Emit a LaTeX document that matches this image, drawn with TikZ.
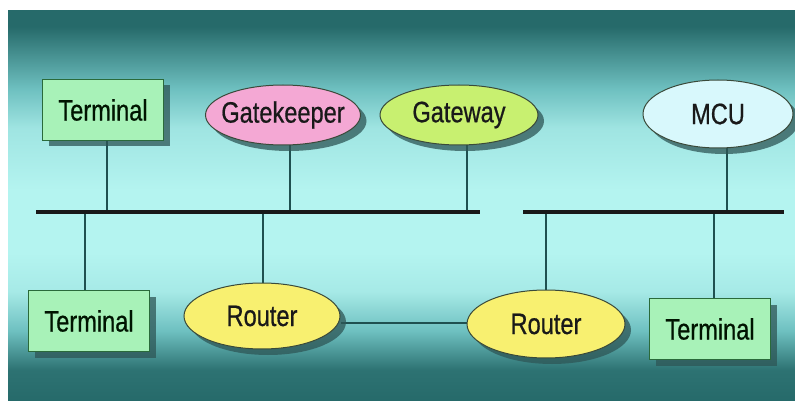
\documentclass[tikz,border=0pt]{standalone}
\usepackage{fontspec}
\setmainfont{Liberation Sans}[FakeStretch=0.8,FakeBold=0.6]
\usetikzlibrary{shapes.geometric,shadows}
\pgfdeclarelayer{back}
\pgfdeclarelayer{mid}
\pgfsetlayers{back,mid,main}
\definecolor{bgdark}{HTML}{266A6A}
\definecolor{bgmid}{HTML}{6EC0C0}
\definecolor{bglight}{HTML}{B4F4F0}
\definecolor{termfill}{HTML}{A8F2B8}
\definecolor{termline}{HTML}{2A6A3A}
\definecolor{gkfill}{HTML}{F4A8D4}
\definecolor{gwfill}{HTML}{C8F070}
\definecolor{mcufill}{HTML}{D8F8FC}
\definecolor{rtfill}{HTML}{F8F070}
\definecolor{edgeline}{HTML}{3A4A3A}
\definecolor{wire}{HTML}{1F5050}
\definecolor{shade}{HTML}{2E5656}
\pgfdeclareverticalshading{bgshade}{100bp}{
  color(0bp)=(bgdark);
  color(25bp)=(bgdark);
  color(29bp)=(bgdark!90!bgmid);
  color(34bp)=(bgmid);
  color(39bp)=(bglight!80!bgmid);
  color(44bp)=(bglight);
  color(52bp)=(bglight);
  color(60bp)=(bglight!70!bgmid);
  color(65bp)=(bgmid);
  color(69bp)=(bgmid!50!bgdark);
  color(73bp)=(bgdark);
  color(100bp)=(bgdark)}
\newcommand{\ctext}[1]{\makebox[0pt][c]{#1}}
\tikzset{
  x=1pt, y=-1pt,
  lbl/.style={font=\fontsize{29.5}{31}\selectfont, text=black!90},
  shad/.style={drop shadow={shadow xshift=6pt, shadow yshift=-6pt, fill=shade, opacity=0.75}},
  termbox/.style={lbl, draw=termline, line width=1.2pt, fill=termfill, rectangle,
    minimum width=121pt, minimum height=61pt, inner sep=0pt, shad, text=black!80!green!40!black},
  oval/.style={lbl, draw=edgeline, line width=1pt, ellipse, inner sep=0pt, shad},
  bus/.style={line width=4pt, black!90},
  wireline/.style={line width=2pt, wire}
}
\begin{document}
\begin{tikzpicture}
\useasboundingbox (0,0) rectangle (795,401);
\begin{pgfonlayer}{back}
\fill[white] (0,0) rectangle (795,401);
\shade[shading=bgshade] (8,11) rectangle (795,401);
\end{pgfonlayer}

% nodes
\node[termbox] (t1) at (103,110) {Terminal};
\node[oval, fill=gkfill, minimum width=155pt, minimum height=60pt] (gk) at (283,115) {\ctext{Gatekeeper}};
\node[oval, fill=gwfill, minimum width=158pt, minimum height=60pt] (gw) at (459,115) {\ctext{Gateway}};
\node[oval, fill=mcufill, minimum width=150pt, minimum height=68pt] (mcu) at (718,114) {\ctext{MCU}};
\node[termbox] (t2) at (89,321) {Terminal};
\node[oval, fill=rtfill, minimum width=156pt, minimum height=66pt] (r1) at (262,316) {\ctext{Router}};
\node[oval, fill=rtfill, minimum width=158pt, minimum height=68pt] (r2) at (546,324) {\ctext{Router}};
\node[termbox] (t3) at (710,329) {Terminal};

% bus coordinates
\coordinate (b1l) at (36,212);
\coordinate (b1r) at (480,212);
\coordinate (b2l) at (523,212);
\coordinate (b2r) at (784,212);
\coordinate (j1) at (107,212);
\coordinate (j2) at (290,212);
\coordinate (j3) at (467,212);
\coordinate (j4) at (727,212);
\coordinate (k1) at (85,212);
\coordinate (k2) at (263,212);
\coordinate (k3) at (546,212);
\coordinate (k4) at (714,212);

\begin{pgfonlayer}{mid}
\draw[wireline] (j1) -- (j1 |- t1.center);
\draw[wireline] (j2) -- (j2 |- gk.center);
\draw[wireline] (j3) -- (j3 |- gw.center);
\draw[wireline] (j4) -- (j4 |- mcu.center);
\draw[wireline] (k1) -- (k1 |- t2.center);
\draw[wireline] (k2) -- (k2 |- r1.center);
\draw[wireline] (k3) -- (k3 |- r2.center);
\draw[wireline] (k4) -- (k4 |- t3.center);
\draw[wireline] (r1.east |- 0,323) -- (r2.west |- 0,323);
\draw[bus] (b1l) -- (b1r);
\draw[bus] (b2l) -- (b2r);
\end{pgfonlayer}
\end{tikzpicture}
\end{document}
